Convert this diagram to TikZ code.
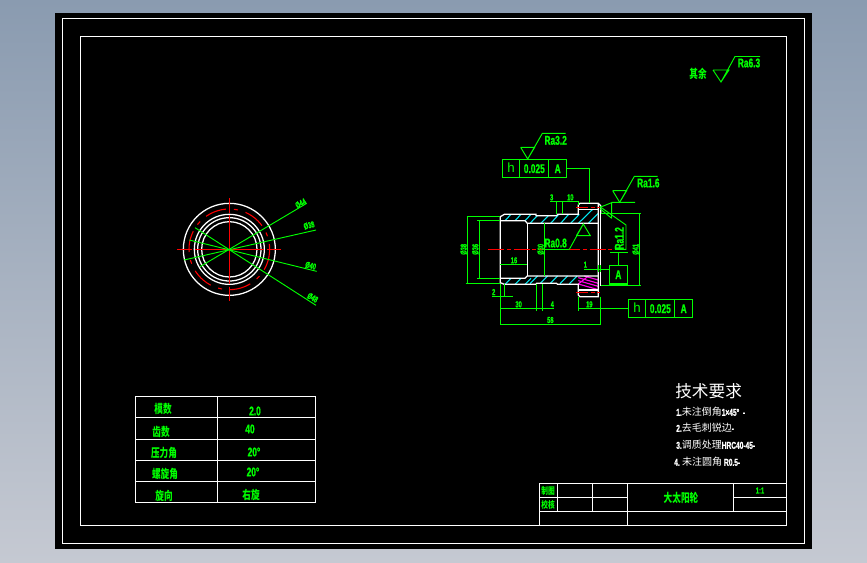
\documentclass[tikz,border=0pt]{standalone}
\usepackage{fontspec}
\setmainfont{Liberation Sans}
\newfontfamily\cjk{Noto Sans CJK SC}
\newfontfamily\cjkn[FakeStretch=0.72]{Noto Sans CJK SC}
\newfontfamily\nrw[FakeStretch=0.66,BoldFeatures={FakeBold=1}]{Liberation Sans}
\definecolor{cadgreen}{RGB}{0,255,0}
\definecolor{cadcyan}{RGB}{0,235,245}
\definecolor{cadmag}{RGB}{255,0,230}
\definecolor{cadred}{RGB}{255,0,0}
\definecolor{bgtop}{RGB}{138,155,176}
\definecolor{bgbot}{RGB}{197,201,210}
\tikzset{
  wl/.style={draw=white,line width=0.95pt},
  gl/.style={draw=cadgreen,line width=0.7pt},
  rl/.style={draw=cadred,line width=0.7pt,dash pattern=on 12pt off 2pt on 3pt off 2pt},
  cl/.style={draw=cadcyan,line width=0.8pt},
  ml/.style={draw=cadmag,line width=0.85pt},
  gt/.style={text=cadgreen,inner sep=0pt,font=\fontsize{9.5}{10}\selectfont\nrw\bfseries},
  gc/.style={text=cadgreen,inner sep=0pt,font=\fontsize{9}{10}\selectfont\cjkn\bfseries},
  gcs/.style={text=cadgreen,inner sep=0pt,font=\fontsize{7}{8}\selectfont\cjkn\bfseries},
  wc/.style={text=white,inner sep=0pt,anchor=west,font=\fontsize{7.5}{8}\selectfont\cjk},
  gs/.style={text=cadgreen,inner sep=0pt,font=\fontsize{6.5}{7}\selectfont\nrw\bfseries},
}
\begin{document}
\begin{tikzpicture}[x=0.75pt,y=-0.75pt]
\useasboundingbox (0,0) rectangle (867,562);
\shade[top color=bgtop,bottom color=bgbot] (0,0) rectangle (867,562);
\fill[black] (55,13) rectangle (812,549);
\draw[wl] (62.5,18.5) rectangle (804.5,543.5);
\draw[wl] (80.5,36.5) rectangle (786.5,525.5);

% surface finish top right
\draw[gl] (713,70) -- (729,70) -- (721,82) -- (713,70) (721,82) -- (735,56.5) -- (760,56.5);
\node[gc] (qiyu) at (698,74) {其余};
\node[gt] (ra63) at (749,63) {Ra6.3};

% end view
\begin{scope}[shift={(160,180)},x=0.25pt,y=-0.25pt]
\coordinate (c) at (208,208);
\draw[wl] (c) circle[radius=138] (c) circle[radius=105] (c) circle[radius=95] (c) circle[radius=83];
\draw[draw=cadred,line width=0.8pt,dash pattern=on 16pt off 6pt on 3pt off 6pt] (c) circle[radius=121];
\draw[cadred,line width=0.7pt] (52,208) -- (95,208) (105,208) -- (312,208) (322,208) -- (362,208);
\draw[cadred,line width=0.7pt] (208,54) -- (208,98) (208,106) -- (208,312) (208,320) -- (208,362);
\draw[gl] (120,260) -- (440,70);
\draw[gl] (72,240) -- (468,150);
\draw[gl] (88,180) -- (470,274);
\draw[gl] (105,143) -- (468,376);
\node[gs,rotate=28] (d1) at (422,70) {Ø44};
\node[gs,rotate=14] (d2) at (447,136) {Ø38};
\node[gs,rotate=-14] (d3) at (452,257) {Ø40};
\node[gs,rotate=-30] (d4) at (458,353) {Ø48};
\end{scope}

% side view: coordinates in 3x zoom space
\begin{scope}[shift={(450,120)},x=0.25pt,y=-0.25pt]
% hatching
\foreach \x in {165,195,225} {\draw[cl] (\x,302) -- (\x+18,283);}
\draw[cl] (240,310) -- (262,287) (272,310) -- (295,287) (302,310) -- (325,285) (332,310) -- (356,283) (362,310) -- (388,283) (385,310) -- (428,268) (415,310) -- (445,280);
\foreach \x in {165,195,225} {\draw[cl] (\x,493) -- (\x+18,475);}
\foreach \x in {240,270,300,330,358} {\draw[cl] (\x,491) -- (\x+23,468);}
% magenta
\draw[ml] (403,468) -- (445,480) (385,473) -- (445,490) (385,482) -- (445,499) (385,492) -- (445,509);
\draw[ml] (385,492) -- (415,468);
% outline
\draw[wl] (151,490) -- (151,290) -- (163,283) -- (258,283) -- (258,287) -- (320,287) -- (323,283) -- (385,283) -- (385,255) -- (390,250) -- (445,250) -- (452,257) -- (452,280);
\draw[wl] (445,250) -- (445,530) -- (390,530) -- (385,525) -- (385,493) -- (323,493) -- (320,490) -- (260,490) -- (258,493) -- (163,493) -- (151,488);
\draw[wl] (452,280) -- (452,498);
\draw[wl] (385,268) -- (445,268);
\draw[wl] (385,510) -- (445,510);
\draw[wl] (151,302) -- (225,302) -- (232,310) -- (445,310);
\draw[wl] (151,475) -- (225,475) -- (232,468) -- (445,468);
\draw[wl] (232,310) -- (232,468);
% centre lines
\draw[rl] (115,388) -- (500,388);
\draw[cadred,line width=0.7pt,dash pattern=on 9pt off 2pt on 3pt off 2pt] (378,262) -- (450,262);
\draw[cadred,line width=0.7pt,dash pattern=on 9pt off 2pt on 3pt off 2pt] (378,517) -- (450,517);
% left dims
\draw[gl] (50,290) -- (151,290) (47,490) -- (151,490) (52,290) -- (52,490);
\draw[gl] (82,302) -- (151,302) (82,475) -- (151,475) (88,302) -- (88,475);
\node[gs,rotate=90] (dl1) at (41,388) {Ø38};
\node[gs,rotate=90] (dl2) at (76,388) {Ø36};
\draw[gl] (151,433) -- (232,433);
\node[gs] (d16) at (192,421) {16};
\draw[gl] (283,310) -- (283,468) (283,388) -- (358,388);
\node[gs,rotate=90] (d30) at (272,388) {Ø30};
% top dims
\draw[gl] (319,243) -- (319,283) (337,243) -- (337,283) (300,243) -- (385,243) (385,243) -- (385,255);
\node[gs] (d3) at (305,232) {3};
\node[gs] (d10) at (361,232) {10};
% bottom dims
\draw[gl] (163,493) -- (163,530) (151,493) -- (151,615) (125,529) -- (188,529);
\node[gs] (d2b) at (131,516) {2};
\draw[gl] (259,493) -- (259,573) (277,493) -- (277,573) (151,565) -- (311,565);
\node[gs] (d30b) at (206,553) {30};
\node[gs] (d4b) at (307,553) {4};
\draw[gl] (385,530) -- (385,573) (451,530) -- (451,615) (385,565) -- (535,565);
\node[gs] (d19) at (418,553) {19};
\draw[gl] (151,612) -- (451,612);
\node[gs] (d58) at (301,600) {58};
% right dim
\draw[gl] (452,280) -- (574,280) (452,496) -- (574,496) (568,280) -- (568,496);
\node[gs,rotate=90] (d41) at (557,388) {Ø41};
\draw[gl] (403,448) -- (478,448) (445,436) -- (445,455) (452,436) -- (452,455);
\node[gs] (d1r) at (406,434) {1};
% datum A
\draw[gl,line width=0.9pt] (478,437) rectangle (533,492);
\node[gt] (dA) at (505,464) {A};
\draw[gl] (505,397) -- (505,437) (480,397) -- (533,397);
% Ra0.8
\draw[gl] (379,347) -- (421,347) -- (400,312) -- (379,347) (400,312) -- (358,388);
\node[gt] (ra08) at (317,369) {Ra0.8};
% Ra1.2 vertical
\draw[gl] (450,260) -- (528,315) -- (528,388) -- (495,388);
\node[gt,rotate=90] (ra12) at (508,355) {Ra1.2};
\draw[gl] (450,262) -- (485,248) -- (485,295) (450,266) -- (485,295) (485,247) -- (555,247);
% Ra1.6
\draw[gl] (488,212) -- (530,212) -- (509,247) -- (488,212) (509,247) -- (553,169) -- (623,169);
\node[gt] (ra16) at (595,189) {Ra1.6};
% Ra3.2
\draw[gl] (212,82) -- (254,82) -- (233,117) -- (212,82) (233,117) -- (277,40) -- (347,40);
\node[gt] (ra32) at (317,61) {Ra3.2};
% tolerance frame top
\draw[gl,line width=0.9pt] (157,118) rectangle (350,172) (208,118) -- (208,172) (295,118) -- (295,172);
\node[text=cadgreen,inner sep=0pt,font=\fontsize{10}{11}\selectfont] (h1) at (183,144) {h};
\node[gt] (t1) at (253,146) {0.025};
\node[gt] (a1) at (323,146) {A};
\draw[gl] (350,145) -- (418,145) -- (418,250);
% tolerance frame bottom
\draw[gl,line width=0.9pt] (535,538) rectangle (728,592) (586,538) -- (586,592) (673,538) -- (673,592);
\node[text=cadgreen,inner sep=0pt,font=\fontsize{10}{11}\selectfont] (h2) at (561,564) {h};
\node[gt] (t2) at (631,566) {0.025};
\node[gt] (a2) at (701,566) {A};
\end{scope}

% parameter table
\draw[wl] (135.5,396.5) rectangle (315.5,502.5);
\draw[wl] (135.5,417.5) -- (315.5,417.5) (135.5,439.5) -- (315.5,439.5) (135.5,460.5) -- (315.5,460.5) (135.5,481.5) -- (315.5,481.5) (217.5,396.5) -- (217.5,502.5);
\node[gc] (m1) at (163,409) {模数};
\node[gc] (m2) at (161,432) {齿数};
\node[gc] (m3) at (164,453) {压力角};
\node[gc] (m4) at (165,474) {螺旋角};
\node[gc] (m5) at (164,496) {旋向};
\node[gt] (v1) at (255,411) {2.0};
\node[gt] (v2) at (250,429) {40};
\node[gt] (v3) at (254,452) {20°};
\node[gt] (v4) at (253,472) {20°};
\node[gc] (v5) at (251,495) {右旋};

% technical requirements
\node[wc,font=\fontsize{12.5}{14}\selectfont\cjk] (tr0) at (675,391) {技术要求};
\node[wc] (tr1) at (676,412) {{\nrw\bfseries 1.}未注倒角{\nrw\bfseries 1×45°\ \ -}};
\node[wc] (tr2) at (676,428) {{\nrw\bfseries 2.}去毛刺锐边{\nrw\bfseries -}};
\node[wc] (tr3) at (676,445) {{\nrw\bfseries 3.}调质处理{\nrw\bfseries HRC40-45-}};
\node[wc] (tr4) at (674,462) {{\nrw\bfseries 4. }未注圆角{\nrw\bfseries\ R0.5-}};

% title block
\draw[wl] (539.5,483.5) rectangle (786.5,525.5);
\draw[wl] (539.5,497.5) -- (627.5,497.5) (733.5,497.5) -- (786.5,497.5);
\draw[wl] (539.5,511.5) -- (786.5,511.5);
\draw[wl] (557.5,483.5) -- (557.5,511.5) (592.5,483.5) -- (592.5,511.5) (627.5,483.5) -- (627.5,525.5) (733.5,483.5) -- (733.5,511.5);
\node[gcs] (tb1) at (548,490.5) {制图};
\node[gcs] (tb2) at (548,504.5) {校核};
\node[gc] (tb3) at (681,497.5) {大太阳轮};
\node[gs] (tb4) at (760,490.5) {1:1};
\end{tikzpicture}
\end{document}
